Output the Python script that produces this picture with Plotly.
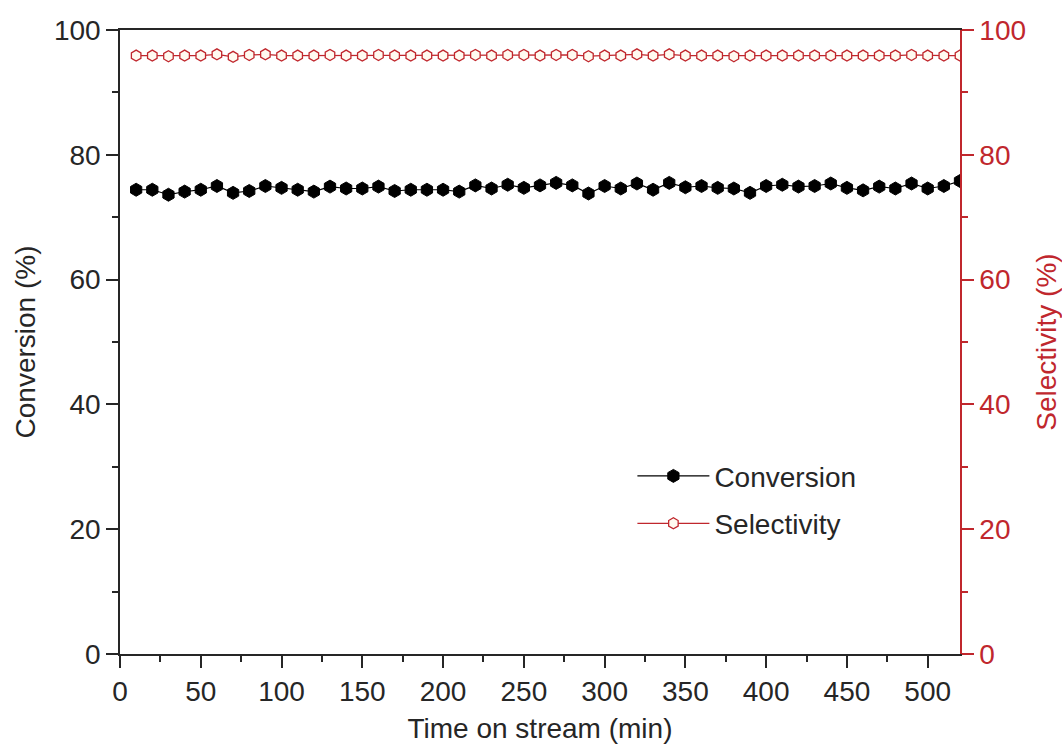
import plotly.graph_objects as go

time_min = list(range(10, 530, 10))

conversion = [74.4, 74.4, 73.6, 74.1, 74.4, 75.0, 73.9, 74.2, 75.0, 74.7,
              74.4, 74.1, 74.9, 74.6, 74.6, 74.9, 74.2, 74.4, 74.4, 74.4,
              74.1, 75.1, 74.6, 75.2, 74.7, 75.1, 75.5, 75.1, 73.8, 75.0,
              74.6, 75.4, 74.4, 75.5, 74.8, 75.0, 74.7, 74.6, 73.9, 75.0,
              75.2, 74.9, 75.0, 75.4, 74.7, 74.3, 74.9, 74.6, 75.4, 74.6,
              75.0, 75.8]

selectivity = [95.9, 95.9, 95.8, 95.9, 95.9, 96.1, 95.7, 96.0, 96.1, 95.9,
               95.9, 95.9, 96.0, 95.9, 95.9, 96.0, 95.9, 95.9, 95.9, 95.9,
               95.9, 96.0, 95.9, 96.0, 96.0, 95.9, 96.0, 96.0, 95.8, 95.9,
               95.9, 96.1, 95.9, 96.1, 95.9, 95.9, 95.9, 95.8, 95.9, 95.9,
               95.9, 95.9, 95.9, 95.9, 95.9, 95.9, 95.9, 95.9, 96.0, 95.9,
               95.9, 95.9]

x_ticks = list(range(0, 501, 50))
y_ticks = list(range(0, 101, 20))

RED = "#c0272d"
INK = "#262626"
FONT = "Liberation Sans, Arial, sans-serif"
FS = 28

fig = go.Figure()
fig.add_trace(go.Scatter(
    x=time_min, y=conversion, name="Conversion", mode="lines+markers",
    line=dict(color="black", width=1.2),
    marker=dict(symbol="hexagon", size=13, color="black", line=dict(color="black", width=1)),
    yaxis="y", legendgroup="a"))
fig.add_trace(go.Scatter(
    x=time_min, y=selectivity, name="Selectivity", mode="lines+markers",
    line=dict(color=RED, width=1.2),
    marker=dict(symbol="hexagon", size=11, color="#fffaf0", line=dict(color=RED, width=1.3)),
    yaxis="y2", legendgroup="b"))

fig.update_layout(
    width=1062, height=747,
    margin=dict(l=120, r=102, t=30, b=93),
    paper_bgcolor="white", plot_bgcolor="white",
    font=dict(family=FONT, size=FS, color=INK),
    showlegend=True,
    legend=dict(x=0.61, y=0.325, xanchor="left", yanchor="top",
                bgcolor="rgba(0,0,0,0)", font=dict(size=FS, color=INK),
                tracegroupgap=8, itemwidth=72),
    xaxis=dict(range=[0, 520], tickvals=x_ticks, ticks="outside", ticklen=12,
               tickwidth=1.5, tickcolor=INK, automargin=False,
               minor=dict(dtick=25, ticks="outside", ticklen=6, tickwidth=1.5, tickcolor=INK),
               showline=True, linecolor=INK, linewidth=1.5, mirror=True,
               showgrid=False, zeroline=False,
               tickfont=dict(size=FS, color=INK),
               title=dict(text="Time on stream (min)", font=dict(size=FS, color=INK), standoff=12)),
    yaxis=dict(range=[0, 100], tickvals=y_ticks, ticks="outside", ticklen=12,
               tickwidth=1.5, tickcolor=INK, automargin=False,
               minor=dict(dtick=10, ticks="outside", ticklen=6, tickwidth=1.5, tickcolor=INK),
               showline=True, linecolor=INK, linewidth=1.5,
               showgrid=False, zeroline=False,
               tickfont=dict(size=FS, color=INK),
               title=dict(text="Conversion (%)", font=dict(size=FS, color=INK), standoff=10)),
    yaxis2=dict(range=[0, 100], tickvals=y_ticks, overlaying="y", side="right",
                ticks="outside", ticklen=12, tickwidth=1.5, tickcolor=RED, automargin=False,
                minor=dict(dtick=10, ticks="outside", ticklen=6, tickwidth=1.5, tickcolor=RED),
                showline=True, linecolor=RED, linewidth=1.5,
                showgrid=False, zeroline=False,
                tickfont=dict(size=FS, color=RED),
                title=dict(text="Selectivity (%)", font=dict(size=FS, color=RED), standoff=12)),
)

fig.write_html("out.html")
